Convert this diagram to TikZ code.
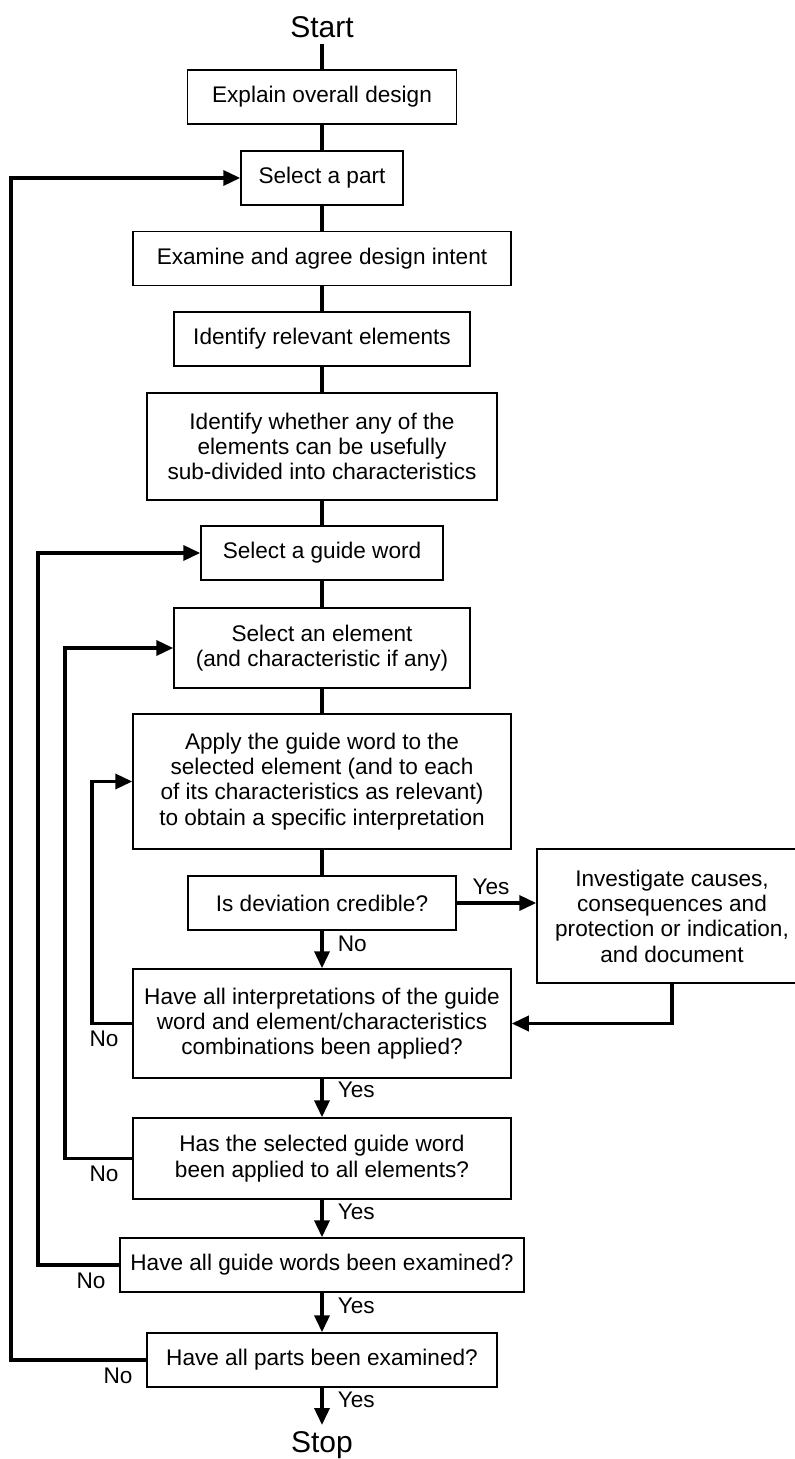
\documentclass[tikz,border=0pt]{standalone}
\usepackage{fontspec}
\setmainfont{Liberation Sans}
\usetikzlibrary{arrows.meta}
\newcommand{\boxfont}{\fontsize{11.3}{12.65}\selectfont}
\newcommand{\termfont}{\fontsize{15}{18}\selectfont}
\tikzset{
  box/.style={draw, line width=0.75pt, align=center, inner sep=3pt, minimum height=27pt, font=\boxfont},
  term/.style={inner sep=3pt, font=\termfont},
  line/.style={line width=1.8pt},
  arr/.style={line width=1.8pt, -{Triangle[length=8.5pt, width=7.5pt]}},
  lbl/.style={inner sep=3pt, font=\boxfont}
}

\begin{document}
\begin{tikzpicture}[x=0.5pt, y=-0.5pt]
    \useasboundingbox (0,0) rectangle (795,1459);
    \node[term, anchor=south](start) at (322,44) {Start};
    \node[box, minimum width=134.5pt](explain) at (322,97) {Explain overall design};
    \node[box, minimum width=81pt](part) at (322,178) {Select a part};
    \node[box, minimum width=189pt](intent) at (322,258.5) {Examine and agree design intent};
    \node[box, minimum width=148pt](elems) at (322,339) {Identify relevant elements};
    \node[box, minimum width=175pt, minimum height=53.5pt](subdiv) at (322,446.5)
        {Identify whether any of the\\elements can be usefully\\sub-divided into characteristics};
    \node[box, minimum width=121pt](gword) at (322,553) {Select a guide word};
    \node[box, minimum width=148pt, minimum height=40pt](elem) at (322,648)
        {Select an element\\(and characteristic if any)};
    \node[box, minimum width=189pt, minimum height=67.5pt](apply) at (322,781.5)
        {Apply the guide word to the\\selected element (and to each\\of its characteristics as relevant)\\to obtain a specific interpretation};
    \node[box, minimum width=134pt](cred) at (322,903) {Is deviation credible?};
    \node[box, minimum width=135pt, minimum height=67pt](invest) at (672,916)
        {Investigate causes,\\consequences and\\protection or indication,\\and document};
    \node[box, minimum width=189pt, minimum height=54.5pt](interp) at (322,1023.5)
        {Have all interpretations of the guide\\word and element/characteristics\\combinations been applied?};
    \node[box, minimum width=189pt, minimum height=40.5pt](allelem) at (322,1158.5)
        {Has the selected guide word\\been applied to all elements?};
    \node[box, minimum width=202pt](allgw) at (322,1265) {Have all guide words been examined?};
    \node[box, minimum width=175pt](allparts) at (322,1360) {Have all parts been examined?};
    \node[term, anchor=north](stop) at (322,1425) {Stop};

    % main column
    \draw[line](start) -- (explain);
    \draw[line](explain) -- (part);
    \draw[line](part) -- (intent);
    \draw[line](intent) -- (elems);
    \draw[line](elems) -- (subdiv);
    \draw[line](subdiv) -- (gword);
    \draw[line](gword) -- (elem);
    \draw[line](elem) -- (apply);
    \draw[line](apply) -- (cred);
    \draw[arr](cred.east) -- node[lbl, pos=0, above right, xshift=4pt]{Yes} (cred.east -| invest.west);
    \draw[arr](cred) -- node[lbl, pos=0.36, right=4pt]{No} (interp);
    \draw[arr](invest.south) |- (interp.east);
    \draw[arr](interp) -- node[lbl, pos=0.3, right=4pt]{Yes} (allelem);
    \draw[arr](allelem) -- node[lbl, pos=0.33, right=4pt]{Yes} (allgw);
    \draw[arr](allgw) -- node[lbl, pos=0.34, right=4pt]{Yes} (allparts);
    \draw[arr](allparts) -- node[lbl, pos=0.32, right=4pt]{Yes} (stop);

    % loops back
    \draw[arr](interp.west)node[lbl, below left, xshift=-3pt]{No} -- ++(-40,0) |- (apply.west);
    \draw[arr](allelem.west)node[lbl, below left, xshift=-3pt]{No} -- ++(-67,0) |- (elem.west);
    \draw[arr](allgw.west)node[lbl, below left, xshift=-3pt]{No} -- ++(-81,0) |- (gword.west);
    \draw[arr](allparts.west)node[lbl, below left, xshift=-3pt]{No} -- ++(-135,0) |- (part.west);
\end{tikzpicture}
\end{document}
